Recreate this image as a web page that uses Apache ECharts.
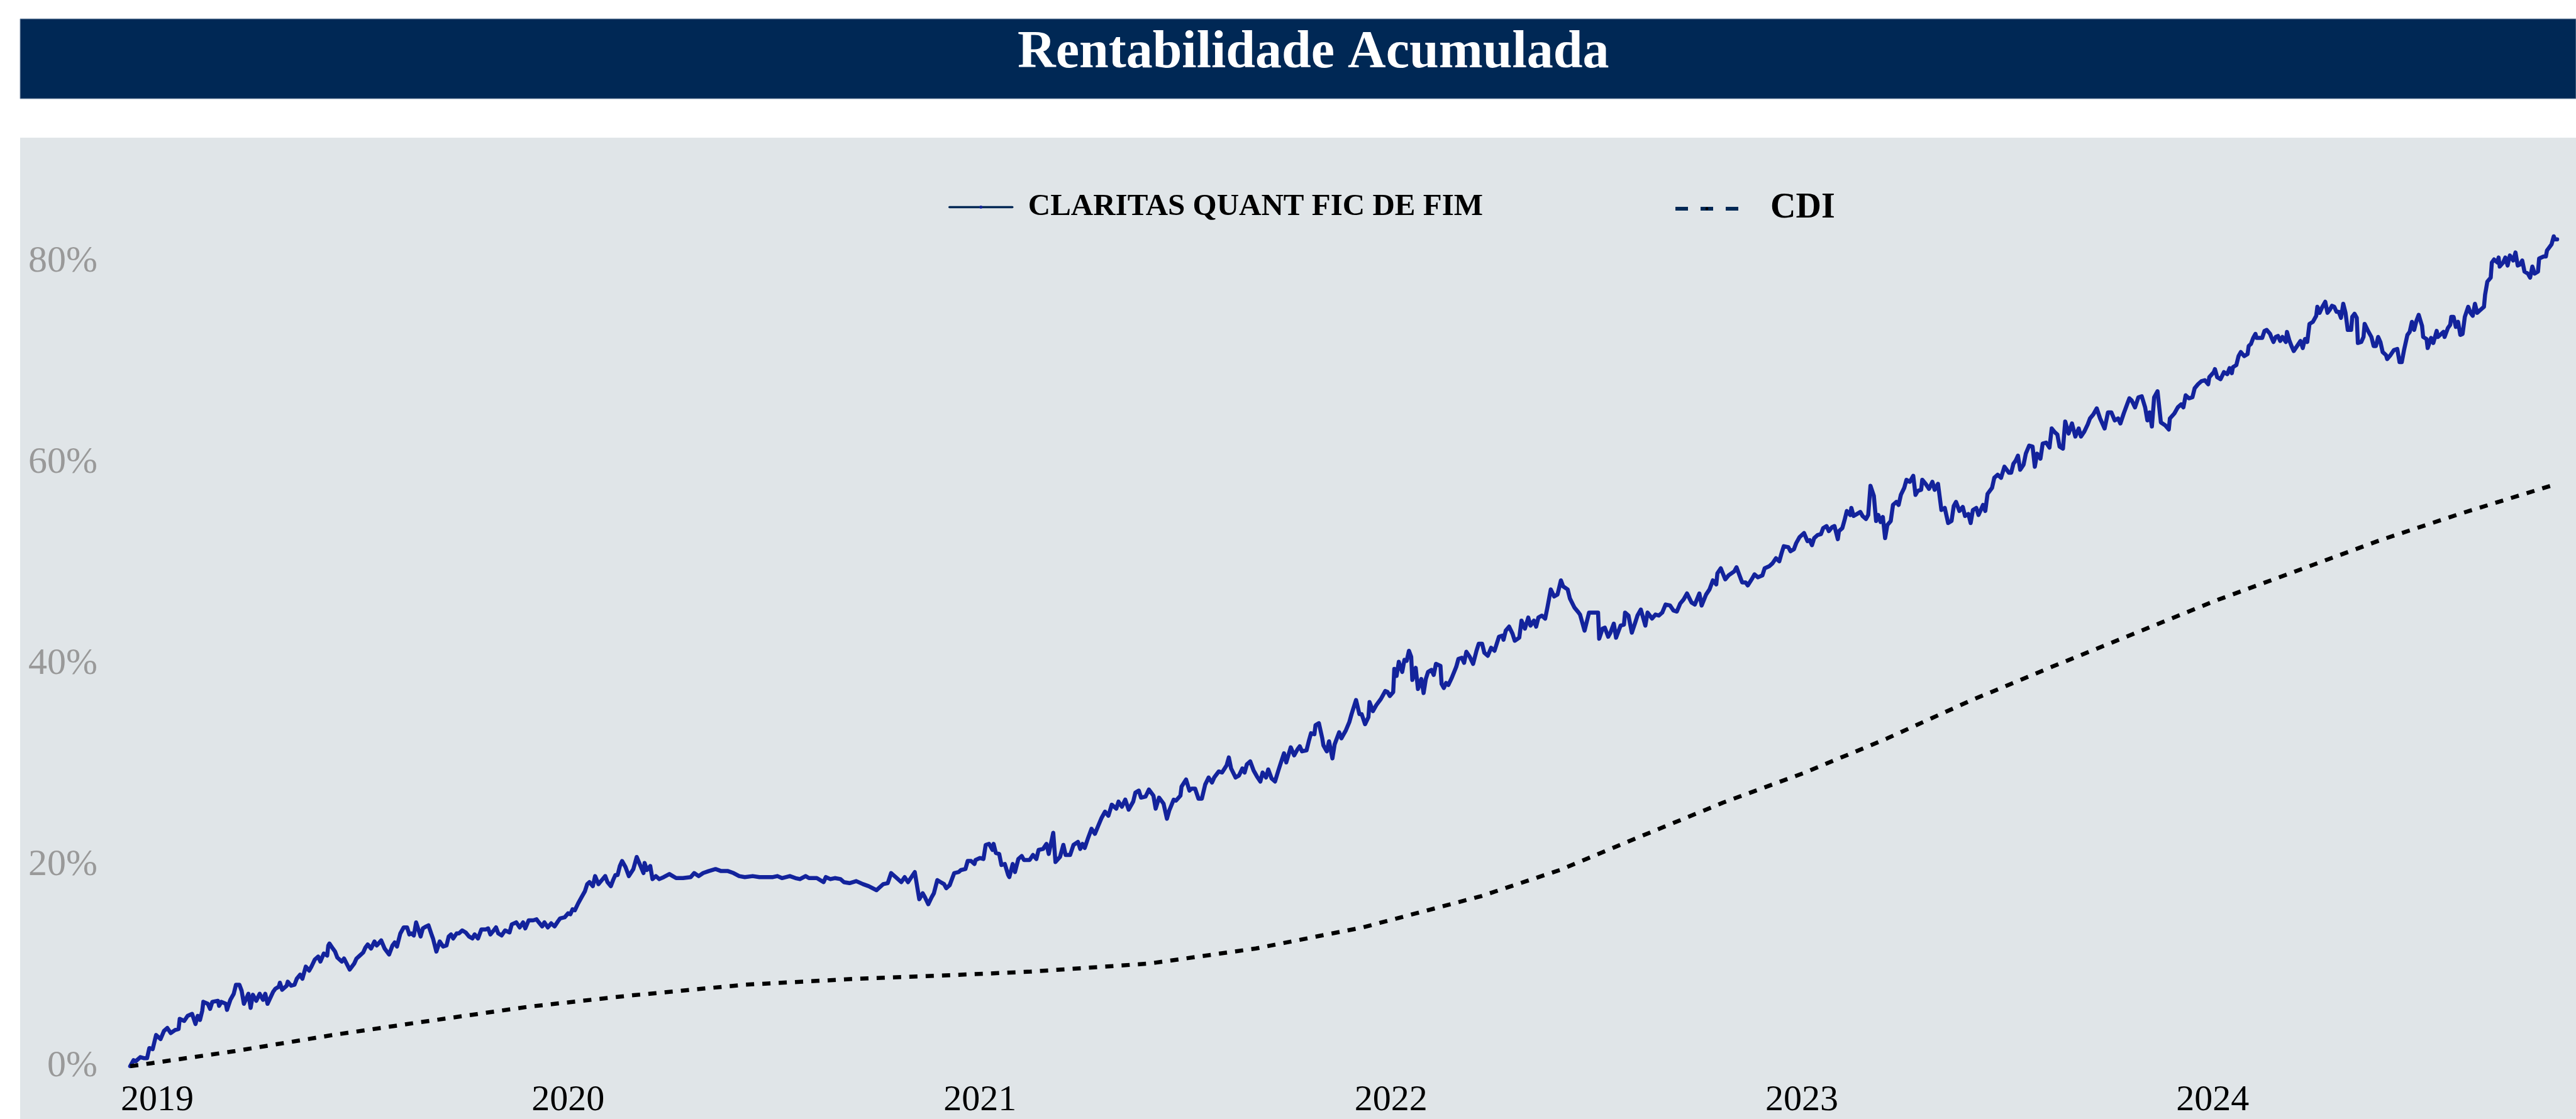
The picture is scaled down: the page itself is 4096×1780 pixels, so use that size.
<!DOCTYPE html>
<html>
<head>
<meta charset="utf-8">
<title>Rentabilidade Acumulada</title>
<script src="https://cdn.jsdelivr.net/npm/echarts@6/dist/echarts.min.js"></script>
<style>
	html, body { margin: 0; padding: 0; background: #fff; }
	#RentabChart { width: 4096px; height: 1780px; }
</style>
</head>
<body>
<div id="RentabChart"></div>
<script>
// dias corridos desde o início (08/12/2018) e rentabilidade acumulada em %
var inicio = new Date(2018, 11, 8).getTime();
var DIA = 24 * 3600 * 1000;

var nomeFundo = 'CLARITAS QUANT FIC DE FIM';
var nomeIndice = 'CDI';

var claritas = [
	[0,0.0],[3,0.6],[5,0.5],[9,0.9],[12,0.8],[15,0.8],[17,1.8],[20,1.7],[23,3.1],[27,2.7],[30,3.5],[33,3.8],[36,3.3],[40,3.6],[43,3.7],[44,4.7],[48,4.5],[51,5.0],[55,5.2],[58,4.2],[60,5.0],[62,4.6],[64,5.5],[65,6.4],[69,6.2],[71,5.7],[73,6.4],[78,6.5],[79,6.0],[81,6.4],[85,6.2],[86,5.6],[89,6.6],[92,7.2],[94,8.1],[97,8.1],[99,7.5],[101,6.2],[105,7.2],[107,5.8],[109,7.1],[112,6.5],[115,7.2],[118,6.6],[120,7.2],[122,6.2],[127,7.4],[129,7.7],[132,7.9],[133,8.3],[135,7.6],[139,8.0],[140,8.4],[143,8.0],[146,8.1],[148,8.7],[151,9.1],[153,8.7],[156,9.9],[159,9.5],[161,9.9],[164,10.6],[167,10.9],[169,10.4],[172,11.2],[175,11.0],[176,12.0],[177,12.2],[180,11.7],[182,11.4],[184,10.8],[188,10.4],[190,10.7],[195,9.6],[199,10.2],[201,10.7],[204,11.0],[207,11.3],[209,11.8],[211,12.1],[214,11.7],[217,12.4],[219,12.0],[223,12.5],[226,11.7],[230,11.1],[233,12.0],[235,12.3],[237,11.9],[240,13.2],[243,13.8],[246,13.8],[248,13.1],[250,13.2],[252,13.0],[254,14.3],[258,12.9],[260,13.7],[263,13.9],[265,14.0],[268,13.0],[269,12.7],[272,11.4],[275,12.4],[278,11.9],[281,12.0],[283,12.9],[285,13.1],[287,12.7],[290,13.2],[292,13.2],[295,13.5],[298,13.3],[301,12.9],[304,12.7],[306,13.1],[309,12.7],[312,13.6],[316,13.6],[318,13.7],[320,13.1],[323,13.5],[325,13.8],[327,13.2],[330,13.0],[333,13.5],[337,13.3],[339,14.1],[343,14.3],[346,13.8],[349,14.3],[351,13.7],[354,14.5],[358,14.5],[361,14.6],
	[363,14.3],[366,13.9],[368,14.3],[371,13.8],[374,14.2],[377,13.9],[380,14.4],[382,14.7],[386,14.8],[389,15.2],[391,15.1],[393,15.6],[395,15.5],[398,16.2],[401,16.8],[404,17.4],[406,18.1],[408,18.3],[411,17.9],[413,18.9],[416,18.1],[419,18.5],[422,18.9],[424,18.3],[427,17.9],[429,18.5],[431,19.0],[433,19.0],[435,19.9],[437,20.4],[440,19.8],[443,18.9],[447,19.6],[450,20.8],[453,20.0],[456,19.2],[457,20.2],[459,19.5],[462,19.9],[464,18.6],[467,18.9],[470,18.6],[474,18.8],[479,19.1],[482,18.9],[485,18.7],[491,18.7],[498,18.8],[501,19.2],[505,18.9],[509,19.2],[514,19.4],[520,19.6],[525,19.4],[531,19.4],[536,19.2],[541,18.9],[546,18.8],[553,18.9],[559,18.8],[565,18.8],[571,18.8],[575,18.9],[579,18.7],[586,18.9],[591,18.7],[595,18.6],[600,18.9],[603,18.7],[610,18.7],[616,18.3],[618,18.8],[622,18.6],[626,18.7],[631,18.6],[634,18.3],[639,18.2],[645,18.4],[651,18.1],[656,17.9],[663,17.5],[666,17.8],[669,18.1],[673,18.2],[676,19.2],[680,18.8],[682,18.6],[685,18.3],[688,18.8],[691,18.3],[694,18.8],[697,19.3],[701,16.6],[704,17.2],[706,16.8],[709,16.1],[712,16.8],[714,17.2],[717,18.5],[720,18.3],[723,18.1],[725,17.7],[728,18.0],
	[732,19.2],[736,19.3],[738,19.5],[742,19.6],[744,20.4],[747,20.4],[750,20.1],[751,20.5],[755,20.7],[758,20.6],[760,22.0],[763,22.1],[766,21.5],[767,22.1],[769,21.2],[772,21.1],[774,20.0],[777,20.1],[780,19.0],[781,18.8],[784,20.1],[786,19.3],[789,20.6],[792,20.9],[794,20.5],[799,20.5],[802,21.0],[805,20.6],[807,21.5],[811,21.6],[814,22.1],[816,21.1],[820,23.2],[822,20.3],[826,20.8],[829,22.0],[831,21.0],[835,21.0],[838,22.0],[842,22.3],[844,21.6],[846,22.1],[848,21.7],[851,22.7],[854,23.6],[857,23.1],[860,23.9],[863,24.7],[866,25.3],[869,24.9],[872,26.0],[876,25.6],[878,26.3],[881,25.8],[884,26.5],[887,25.5],[891,26.3],[893,27.2],[896,27.4],[898,26.7],[902,26.8],[905,27.5],[909,26.9],[911,25.6],[914,26.7],[918,26.1],[921,24.6],[923,25.4],[927,26.5],[929,26.4],[933,26.9],[934,27.8],[938,28.5],[941,27.4],[943,27.6],[946,27.6],[949,26.6],[952,26.6],[955,28.0],[958,28.7],[961,28.2],[963,28.7],[967,29.3],[970,29.2],[974,29.9],[976,30.7],[978,29.6],[982,28.7],[985,28.9],[988,29.6],[990,29.2],[992,30.0],[995,30.3],[998,29.4],[1001,28.8],[1004,28.3],[1006,29.2],[1009,28.7],[1011,29.5],[1014,28.6],[1017,28.3],[1020,29.4],[1022,30.1],[1025,31.1],[1027,30.2],[1031,31.7],[1034,30.9],[1037,31.5],[1039,31.8],[1041,31.3],[1045,31.4],[1047,32.3],[1049,33.1],[1052,33.0],[1053,33.9],[1056,34.1],[1059,32.6],[1060,31.9],[1063,31.3],[1065,32.3],[1068,30.6],[1070,32.0],[1074,33.2],[1076,32.6],[1080,33.4],[1083,34.2],[1085,35.0],[1089,36.4],[1092,35.0],[1094,35.0],[1097,34.0],[1100,34.7],[1101,36.2],[1104,35.3],[1107,35.9],[1111,36.5],[1115,37.3],
	[1117,37.2],[1119,36.8],[1122,37.2],[1123,39.5],[1125,38.8],[1127,40.2],[1130,39.2],[1132,40.4],[1134,40.3],[1136,41.3],[1138,40.7],[1139,38.4],[1142,39.6],[1144,37.5],[1147,38.5],[1149,37.1],[1151,38.5],[1153,39.2],[1156,39.4],[1158,38.9],[1160,40.0],[1164,39.8],[1165,38.0],[1167,37.6],[1169,38.1],[1171,37.9],[1174,38.6],[1178,39.7],[1180,40.5],[1183,40.6],[1185,40.1],[1187,41.2],[1190,40.7],[1193,40.0],[1196,41.3],[1198,42.0],[1201,42.0],[1203,41.1],[1206,40.8],[1209,41.6],[1212,41.3],[1216,42.7],[1219,42.8],[1220,42.4],[1222,43.3],[1225,43.7],[1228,43.0],[1230,42.3],[1234,42.6],[1236,44.3],[1239,43.5],[1242,44.6],[1244,43.8],[1247,44.3],[1249,43.7],[1251,44.6],[1254,44.8],[1257,44.5],[1259,45.6],[1262,47.4],[1265,46.7],[1268,46.9],[1271,48.3],[1273,47.7],[1277,47.4],[1279,46.5],[1283,45.6],[1286,45.2],[1288,44.9],[1292,43.3],[1296,45.1],[1298,45.1],[1300,45.1],[1304,45.1],[1305,42.5],[1308,43.5],[1310,43.6],[1313,42.7],[1315,43.1],[1318,44.0],[1320,42.6],[1324,43.8],[1327,43.9],[1328,45.1],[1331,44.8],[1334,43.1],[1337,44.1],[1339,44.8],[1342,45.4],[1346,43.8],[1348,45.1],[1352,44.5],[1355,44.9],[1358,44.8],[1361,45.1],[1364,45.9],[1368,45.8],[1371,45.3],[1374,45.2],[1377,46.0],[1380,46.4],[1383,47.0],[1387,46.1],[1390,45.9],[1394,47.0],[1396,45.8],[1400,46.9],[1403,47.4],[1406,48.3],[1409,47.9],[1410,49.0],[1413,49.5],[1417,48.4],[1420,48.8],[1425,49.2],[1427,49.6],[1430,48.7],[1432,48.1],[1435,48.1],[1437,47.8],[1441,48.5],[1443,48.9],[1446,48.6],[1450,48.8],[1452,49.5],[1456,49.7],[1459,50.0],[1462,50.5],[1465,50.2],[1467,51.0],[1469,51.7],[1473,51.6],[1475,51.2],[1478,51.4],[1480,52.0],[1483,52.6],
	[1487,53.0],[1490,52.2],[1492,52.3],[1494,51.8],[1496,52.5],[1499,52.8],[1502,52.9],[1504,53.5],[1507,53.7],[1509,53.2],[1512,53.6],[1514,53.7],[1517,52.4],[1518,53.2],[1521,53.5],[1523,54.3],[1525,55.2],[1528,54.8],[1529,55.5],[1531,54.7],[1534,54.9],[1537,55.1],[1539,54.7],[1542,54.4],[1544,54.8],[1546,57.7],[1549,56.7],[1551,54.2],[1553,54.8],[1555,54.1],[1557,54.6],[1559,52.5],[1561,53.8],[1564,54.2],[1566,55.8],[1569,56.1],[1571,55.8],[1573,56.8],[1576,57.5],[1578,58.3],[1581,58.1],[1584,58.7],[1586,56.8],[1588,57.2],[1591,57.3],[1592,58.3],[1595,57.9],[1598,57.4],[1601,58.1],[1603,57.3],[1606,57.9],[1609,55.3],[1612,55.5],[1615,54.0],[1618,54.2],[1620,55.7],[1622,56.1],[1625,55.2],[1628,55.6],[1630,54.7],[1633,54.9],[1635,54.0],[1637,55.3],[1640,55.5],[1642,54.8],[1646,55.8],[1648,55.2],[1650,56.9],[1654,57.5],[1656,58.5],[1659,58.8],[1662,58.5],[1665,59.6],[1669,59.0],[1671,59.0],[1673,59.9],[1675,60.2],[1677,60.7],[1679,59.3],[1682,59.8],[1684,60.9],[1687,61.7],[1690,61.6],[1692,59.6],[1694,60.9],[1697,60.4],[1699,61.9],[1702,62.0],[1705,61.5],[1707,63.4],[1710,63.0],[1712,62.8],[1714,61.6],[1717,61.4],[1719,64.1],[1722,62.9],[1725,63.9],[1728,62.6],[1731,63.4],[1733,62.6],[1736,63.1],[1739,63.8],[1741,64.4],[1744,64.8],[1747,65.4],[1750,64.4],[1754,63.4],[1757,65.0],[1760,65.0],[1763,64.2],[1766,64.4],[1768,63.9],[1771,64.9],[1774,65.8],[1776,66.4],[1778,66.2],[1781,65.5],[1784,66.5],[1787,66.6],[1790,65.5],[1792,64.2],[1794,65.0],[1796,63.6],[1798,66.5],[1801,67.1],[1804,64.0],[1808,63.7],[1811,63.3],[1812,64.4],[1816,64.9],[1819,65.5],[1822,65.8],[1824,65.5],[1826,66.7],[1829,66.4],[1832,66.5],[1834,67.4],[1837,67.8],[1840,68.1],[1843,68.2],[1846,67.8],[1847,68.5],[1851,69.0],
	[1852,69.3],[1854,68.5],[1857,68.3],[1860,69.0],[1863,68.8],[1865,69.4],[1867,68.9],[1868,69.5],[1871,69.7],[1873,70.6],[1875,71.0],[1878,70.6],[1881,70.8],[1882,71.6],[1884,71.8],[1886,72.4],[1888,72.8],[1889,72.4],[1894,72.4],[1896,73.1],[1898,73.2],[1901,72.8],[1902,72.5],[1904,72.0],[1906,72.5],[1908,72.6],[1910,72.1],[1912,72.5],[1915,72.0],[1916,73.0],[1918,72.2],[1920,71.6],[1922,71.1],[1925,71.6],[1928,72.1],[1930,71.4],[1932,72.3],[1934,72.0],[1936,73.8],[1939,74.0],[1942,74.6],[1943,75.5],[1945,74.9],[1947,75.4],[1950,76.0],[1952,74.9],[1954,75.2],[1956,75.6],[1958,75.5],[1960,75.0],[1962,75.0],[1964,74.4],[1966,75.8],[1968,74.9],[1970,73.2],[1973,73.2],[1974,74.5],[1976,74.8],[1978,74.4],[1979,71.9],[1982,72.0],[1984,72.5],[1985,73.8],[1988,73.1],[1991,72.5],[1993,71.6],[1995,71.6],[1997,72.5],[1999,72.0],[2001,71.0],[2004,70.7],[2005,70.3],[2008,70.7],[2011,71.2],[2014,71.3],[2016,70.0],[2018,70.0],[2020,71.2],[2023,72.7],[2025,73.0],[2027,74.0],[2029,73.2],[2031,74.1],[2033,74.7],[2036,73.6],[2037,72.5],[2040,72.3],[2041,71.4],[2044,72.4],[2046,71.9],[2049,73.1],[2050,72.5],[2052,72.7],[2055,73.0],[2056,72.5],[2059,73.4],[2061,73.7],[2062,74.5],[2064,74.5],[2066,73.5],[2068,74.0],[2070,72.7],[2072,72.8],[2074,74.5],[2077,75.5],[2079,74.9],[2081,74.6],[2083,75.8],[2085,74.9],[2089,75.3],[2091,75.5],[2092,76.7],[2094,78.0],[2097,78.4],[2098,79.9],[2100,80.2],[2103,79.9],[2104,80.4],[2105,79.5],[2108,79.9],[2110,80.4],[2112,79.6],[2114,80.6],[2117,80.1],[2119,80.9],[2121,79.6],[2123,79.7],[2125,80.1],[2127,79.0],[2130,78.8],[2132,78.4],[2134,79.5],[2136,78.8],[2139,79.0],[2140,80.3],[2144,80.5],[2146,80.5],[2147,81.1],[2149,81.4],[2151,81.7],[2153,82.5],[2154,82.2],[2156,82.2]
];

var cdi = [
	[0,0.0],[19,0.3],[93,1.5],[180,3.1],[253,4.3],[353,5.9],[442,7.0],[546,8.1],[647,8.7],[719,9.0],
	[800,9.4],[905,10.2],[1000,11.7],[1095,13.8],[1200,16.9],[1270,19.5],[1343,22.9],[1415,26.2],
	[1488,29.2],[1561,32.6],[1634,36.3],[1707,39.7],[1780,43.0],[1853,46.3],[1926,49.3],[1999,52.3],
	[2072,55.0],[2156,57.9]
];

var eixoY = [0, 20, 40, 60, 80];

function paraData(lista) {
	return lista.map(function (p) {
		return [inicio + p[0] * DIA, p[1]];
	});
}

var RentabChart = echarts.init(document.getElementById('RentabChart'));

RentabChart.setOption({
	animation: false,
	backgroundColor: '#ffffff',
	graphic: [
		{
			type: 'rect',
			z: -10,
			shape: { x: 32, y: 30, width: 4064, height: 127 },
			style: { fill: '#002855', stroke: '#8094ad', lineWidth: 1 }
		},
		{
			type: 'rect',
			z: -10,
			shape: { x: 32, y: 219, width: 4064, height: 1561 },
			style: { fill: '#e0e5e8' }
		}
	],
	title: {
		text: 'Rentabilidade Acumulada',
		left: 1618,
		top: 43,
		padding: 0,
		textStyle: {
			color: '#ffffff',
			fontFamily: 'Liberation Serif',
			fontWeight: 'bold',
			fontSize: 84
		}
	},
	legend: [
		{
			data: [{ name: nomeFundo, lineStyle: { color: '#002855', width: 3.5, type: 'solid' } }],
			left: 1508,
			top: 305,
			padding: 0,
			itemWidth: 100,
			itemHeight: 6,
			selectedMode: false,
			textStyle: {
				color: '#000',
				fontFamily: 'Liberation Serif',
				fontWeight: 'bold',
				fontSize: 49,
				padding: [0, 0, 0, 20]
			}
		},
		{
			data: [{ name: nomeIndice, lineStyle: { color: '#002855', width: 6, type: [20, 20], cap: 'butt' } }],
			left: 2661,
			top: 304,
			padding: 0,
			itemWidth: 100,
			itemHeight: 6,
			selectedMode: false,
			textStyle: {
				color: '#000',
				fontFamily: 'Liberation Serif',
				fontWeight: 'bold',
				fontSize: 56,
				padding: [0, 0, 0, 46]
			}
		}
	],
	grid: {
		left: 207,
		right: 30,
		top: 256,
		bottom: 84,
		containLabel: false,
		outerBoundsMode: 'none'
	},
	xAxis: {
		type: 'time',
		min: inicio,
		max: inicio + 2156 * DIA,
		splitNumber: 6,
		axisLine: { show: false },
		axisTick: { show: false },
		splitLine: { show: false },
		axisLabel: {
			color: '#000',
			fontFamily: 'Liberation Serif',
			fontSize: 58,
			margin: 26,
			formatter: function (v) {
				return String(new Date(v).getFullYear());
			}
		}
	},
	yAxis: {
		type: 'value',
		min: eixoY[0],
		max: 90,
		interval: 20,
		axisLine: { show: false },
		axisTick: { show: false },
		splitLine: { show: false },
		axisLabel: {
			color: '#999999',
			fontFamily: 'Liberation Serif',
			fontSize: 60,
			margin: 52,
			showMaxLabel: false,
			formatter: function (v) {
				return eixoY.indexOf(v) >= 0 ? v + '%' : '';
			}
		}
	},
	series: [
		{
			name: nomeFundo,
			type: 'line',
			data: paraData(claritas),
			symbol: 'none',
			showSymbol: false,
			z: 3,
			lineStyle: { color: '#13239c', width: 6.5, join: 'round', cap: 'round' },
			itemStyle: { color: '#13239c' }
		},
		{
			name: nomeIndice,
			type: 'line',
			data: paraData(cdi),
			symbol: 'none',
			showSymbol: false,
			z: 4,
			lineStyle: { color: '#000000', width: 6.5, type: [13, 13], cap: 'butt' },
			itemStyle: { color: '#000000' }
		}
	]
});
</script>
</body>
</html>
